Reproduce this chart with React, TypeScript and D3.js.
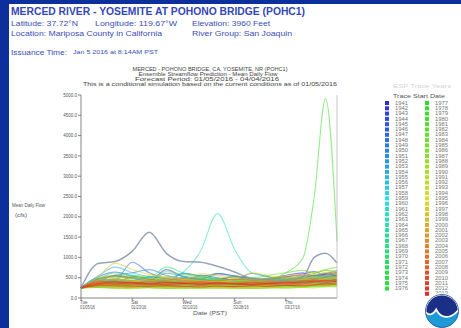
import React from 'react';
import * as d3 from 'd3';

// Forecast days (from 01/05/2016) at which each trace value is given
const DAYS = [0, 6, 12, 18, 24, 30, 36, 42, 48, 54, 60, 66, 72, 78, 82, 86, 90];

// Trace start years (one ESP trace per historical year)
const TRACE_YEARS = [
  1941, 1942, 1943, 1944, 1945, 1946, 1947, 1948, 1949, 1950, 1951, 1952, 1953, 1954, 1955, 1956,
  1957, 1958, 1959, 1960, 1961, 1962, 1963, 1964, 1965, 1966, 1967, 1968, 1969, 1970, 1971, 1972,
  1973, 1974, 1975, 1976, 1977, 1978, 1979, 1980, 1981, 1982, 1983, 1984, 1985, 1986, 1987, 1988,
  1989, 1990, 1991, 1992, 1993, 1994, 1995, 1996, 1997, 1998, 1999, 2000, 2001, 2002, 2003, 2004,
  2005, 2006, 2007, 2008, 2009, 2010, 2011, 2012, 2013,
];

// Mean daily flow (cfs) for each trace, aligned with DAYS
const TRACE_FLOWS = [
  [250, 420, 380, 520, 460, 390, 610, 540, 470, 520, 430, 480, 560, 620, 540, 600, 680],
  [250, 380, 560, 490, 420, 700, 520, 460, 600, 540, 480, 430, 520, 590, 650, 560, 610],
  [250, 450, 390, 340, 520, 480, 420, 560, 500, 440, 610, 520, 470, 540, 500, 580, 630],
  [250, 300, 280, 360, 330, 300, 410, 380, 350, 320, 380, 420, 390, 450, 480, 520, 560],
  [250, 520, 640, 540, 480, 430, 500, 460, 420, 540, 480, 450, 520, 480, 560, 600, 540],
  [250, 360, 420, 880, 620, 480, 420, 390, 450, 420, 380, 410, 440, 500, 470, 520, 580],
  [250, 280, 310, 290, 340, 300, 280, 320, 300, 350, 330, 310, 360, 340, 380, 420, 400],
  [250, 310, 290, 270, 300, 330, 310, 290, 350, 320, 300, 340, 380, 420, 460, 500, 540],
  [250, 460, 520, 480, 430, 610, 540, 470, 430, 400, 460, 420, 480, 520, 560, 520, 590],
  [250, 430, 560, 620, 700, 560, 480, 520, 600, 540, 460, 420, 480, 440, 500, 540, 520],
  [250, 390, 350, 420, 380, 520, 460, 410, 380, 440, 400, 370, 430, 470, 440, 490, 530],
  [250, 330, 380, 350, 410, 380, 350, 420, 390, 460, 430, 400, 450, 420, 480, 460, 500],
  [250, 490, 420, 380, 440, 400, 370, 350, 410, 380, 360, 400, 380, 430, 410, 450, 480],
  [250, 360, 330, 400, 370, 450, 420, 390, 360, 340, 380, 410, 440, 400, 460, 430, 470],
  [250, 540, 760, 620, 520, 460, 600, 520, 470, 430, 400, 440, 420, 470, 440, 490, 520],
  [250, 400, 470, 430, 520, 480, 440, 410, 460, 430, 490, 460, 420, 450, 500, 470, 510],
  [250, 320, 290, 340, 310, 280, 330, 360, 340, 310, 290, 330, 360, 390, 420, 450, 430],
  [250, 440, 400, 370, 350, 420, 390, 520, 480, 440, 410, 460, 500, 470, 510, 540, 500],
  [250, 370, 420, 390, 360, 340, 380, 350, 330, 370, 400, 380, 350, 390, 420, 400, 440],
  [250, 300, 340, 380, 350, 330, 310, 350, 380, 360, 340, 320, 360, 340, 380, 410, 390],
  [250, 350, 320, 300, 330, 360, 340, 320, 350, 330, 360, 390, 370, 400, 380, 420, 450],
  [250, 410, 380, 440, 410, 380, 520, 470, 430, 400, 420, 450, 420, 460, 430, 470, 500],
  [250, 380, 450, 420, 400, 470, 640, 1150, 2080, 1200, 620, 520, 480, 450, 500, 480, 520],
  [250, 330, 310, 350, 330, 360, 340, 320, 350, 380, 360, 340, 370, 350, 390, 420, 400],
  [250, 460, 530, 480, 440, 410, 460, 430, 400, 380, 420, 400, 440, 420, 450, 480, 460],
  [250, 340, 370, 340, 320, 350, 330, 370, 350, 330, 360, 340, 330, 370, 400, 380, 420],
  [250, 420, 480, 560, 500, 450, 420, 480, 450, 420, 460, 430, 470, 520, 560, 620, 580],
  [250, 300, 330, 310, 290, 320, 300, 280, 310, 330, 300, 320, 350, 330, 360, 390, 370],
  [250, 480, 620, 560, 500, 760, 620, 540, 480, 450, 500, 470, 520, 480, 460, 500, 540],
  [250, 350, 330, 390, 360, 340, 370, 350, 330, 360, 340, 370, 350, 330, 370, 350, 380],
  [250, 290, 270, 300, 280, 260, 290, 310, 290, 270, 300, 320, 300, 280, 310, 340, 330],
  [250, 320, 300, 280, 310, 290, 270, 300, 280, 310, 290, 270, 300, 330, 310, 350, 340],
  [250, 380, 440, 400, 370, 420, 390, 450, 420, 390, 360, 400, 440, 410, 450, 430, 470],
  [250, 340, 380, 360, 340, 390, 370, 350, 330, 360, 380, 350, 390, 370, 400, 430, 410],
  [250, 310, 290, 330, 310, 290, 320, 300, 280, 310, 330, 310, 290, 320, 350, 330, 360],
  [250, 270, 260, 280, 270, 250, 270, 260, 280, 270, 250, 270, 290, 280, 300, 320, 310],
  [250, 260, 250, 270, 260, 240, 260, 250, 270, 260, 240, 260, 280, 270, 290, 310, 300],
  [250, 360, 420, 380, 350, 420, 400, 370, 430, 400, 380, 420, 460, 520, 600, 680, 640],
  [250, 330, 310, 360, 340, 320, 380, 350, 330, 390, 360, 420, 620, 980, 2500, 4920, 1400],
  [250, 300, 280, 320, 300, 280, 310, 290, 270, 300, 290, 280, 310, 340, 320, 360, 350],
  [250, 280, 300, 280, 260, 290, 270, 250, 280, 270, 260, 290, 280, 300, 330, 310, 340],
  [250, 420, 380, 520, 470, 430, 400, 460, 430, 400, 440, 470, 440, 480, 520, 500, 540],
  [250, 480, 560, 520, 470, 650, 580, 520, 480, 540, 500, 560, 620, 680, 620, 700, 760],
  [250, 340, 320, 300, 330, 310, 290, 320, 300, 280, 310, 300, 330, 310, 340, 370, 350],
  [250, 290, 270, 260, 280, 300, 280, 260, 250, 270, 260, 250, 270, 290, 280, 300, 320],
  [250, 380, 460, 420, 390, 360, 430, 400, 380, 350, 380, 410, 390, 430, 410, 450, 480],
  [250, 270, 250, 240, 260, 250, 240, 260, 250, 240, 250, 260, 250, 270, 290, 280, 300],
  [250, 260, 240, 230, 250, 240, 230, 250, 240, 230, 240, 250, 240, 260, 250, 280, 270],
  [250, 300, 280, 310, 290, 270, 300, 330, 310, 290, 270, 300, 290, 320, 350, 330, 360],
  [250, 280, 260, 250, 270, 260, 250, 240, 260, 250, 240, 260, 270, 260, 290, 310, 300],
  [250, 290, 270, 280, 260, 250, 270, 290, 280, 260, 250, 280, 330, 380, 420, 460, 440],
  [250, 310, 340, 320, 300, 330, 310, 290, 320, 300, 330, 310, 300, 330, 360, 340, 380],
  [250, 400, 480, 440, 410, 520, 470, 430, 400, 450, 420, 390, 430, 470, 440, 480, 510],
  [250, 300, 280, 270, 290, 280, 260, 280, 270, 260, 280, 270, 290, 280, 300, 330, 310],
  [250, 440, 520, 480, 560, 500, 460, 600, 540, 480, 620, 560, 500, 540, 580, 620, 600],
  [250, 360, 420, 400, 480, 440, 400, 370, 420, 390, 360, 400, 380, 420, 450, 430, 470],
  [250, 520, 860, 700, 580, 520, 480, 520, 560, 500, 460, 500, 540, 580, 620, 680, 640],
  [250, 380, 350, 420, 390, 460, 430, 400, 450, 420, 470, 440, 480, 520, 490, 540, 580],
  [250, 330, 310, 290, 320, 350, 330, 310, 340, 320, 300, 330, 360, 340, 380, 410, 390],
  [250, 400, 380, 360, 440, 410, 390, 430, 400, 380, 410, 440, 420, 460, 500, 480, 520],
  [250, 310, 290, 270, 300, 280, 270, 290, 280, 270, 290, 280, 300, 330, 310, 340, 360],
  [250, 350, 330, 380, 360, 340, 390, 370, 350, 380, 360, 340, 370, 400, 380, 420, 410],
  [250, 420, 460, 430, 400, 470, 440, 410, 440, 470, 440, 410, 450, 480, 460, 500, 530],
  [250, 370, 350, 330, 360, 340, 380, 360, 340, 370, 350, 330, 360, 380, 410, 390, 430],
  [250, 340, 390, 360, 340, 370, 420, 390, 370, 400, 380, 360, 390, 420, 450, 430, 470],
  [250, 460, 540, 500, 460, 430, 480, 450, 420, 460, 440, 480, 520, 560, 540, 600, 620],
  [250, 300, 290, 280, 300, 290, 280, 300, 290, 280, 300, 290, 310, 300, 330, 320, 350],
  [250, 380, 420, 390, 360, 400, 380, 350, 380, 360, 390, 370, 400, 430, 410, 450, 440],
  [250, 330, 360, 340, 320, 350, 330, 310, 340, 320, 350, 330, 310, 340, 370, 350, 390],
  [250, 410, 390, 370, 400, 380, 360, 390, 370, 350, 380, 400, 380, 410, 440, 420, 460],
  [250, 360, 340, 380, 350, 330, 360, 340, 370, 350, 330, 360, 390, 370, 400, 430, 410],
  [250, 300, 320, 300, 280, 310, 290, 270, 300, 280, 300, 290, 310, 300, 320, 350, 340],
  [250, 350, 400, 370, 340, 380, 360, 340, 370, 350, 330, 360, 350, 380, 410, 390, 420],
];

// Simulated flow with current conditions (grey reference trace)
const SIM_FLOW = [250, 850, 900, 1150, 1620, 1100, 900, 880, 780, 640, 480, 450, 430, 520, 1000, 1100, 860];

const Y_TICKS = [0, 500, 1000, 1500, 2000, 2500, 3000, 3500, 4000, 4500, 5000];
const X_TICK_DAYS = [0, 18, 36, 54, 72];
const X_TICK_WEEKDAY = ['Tue', 'Sat', 'Wed', 'Sun', 'Thu'];
const X_TICK_DATE = ['01/05/16', '01/23/16', '02/10/16', '02/28/16', '03/17/16'];

const CHART_TITLE = [
  'MERCED - POHONO BRIDGE, CA, YOSEMITE, NR (POHC1)',
  'Ensemble Streamflow Prediction - Mean Daily Flow',
  'Forecast Period: 01/05/2016 - 04/04/2016',
  'This is a conditional simulation based on the current conditions as of 01/05/2016',
];

const FONT = "'Liberation Sans', Arial, sans-serif";
const W = 461;
const H = 328;
const PLOT = { left: 81, right: 337, top: 95, bottom: 298 };

const x = d3.scaleLinear().domain([0, 90]).range([PLOT.left, PLOT.right]);
const y = d3.scaleLinear().domain([0, 5000]).range([PLOT.bottom, PLOT.top]);
const traceColor = (i: number) =>
  d3.hsl(240 - (240 * i) / (TRACE_YEARS.length - 1), 0.72, 0.52).formatHex();

const pathFor = d3
  .line<number>()
  .x((_, i) => x(DAYS[i]))
  .y((v) => y(v))
  .curve(d3.curveMonotoneX);

const COL1 = 36;
const LEG_Y0 = 103;
const LEG_STEP = 5.3;

function NoaaLogo({ cx, cy, r }: { cx: number; cy: number; r: number }) {
  const upper = `M ${cx - r} ${cy + 1} A ${r} ${r} 0 0 1 ${cx + r} ${cy - 1}
    C ${cx + r * 0.5} ${cy + r * 0.55}, ${cx - r * 0.1} ${cy + r * 0.45}, ${cx - r * 0.35} ${cy - r * 0.1}
    C ${cx - r * 0.55} ${cy + r * 0.25}, ${cx - r * 0.8} ${cy + r * 0.3}, ${cx - r} ${cy + 1} Z`;
  return (
    <g>
      <circle cx={cx} cy={cy} r={r + 1.5} fill="#ffffff" />
      <circle cx={cx} cy={cy} r={r} fill="#1c9bd6" />
      <path d={upper} fill="#1b2f86" stroke="#ffffff" strokeWidth={1.8} />
      <circle cx={cx} cy={cy} r={r} fill="none" stroke="#17468f" strokeWidth={0.8} />
    </g>
  );
}

export default function App() {
  return (
    <svg
      width={W}
      height={H}
      viewBox={`0 0 ${W} ${H}`}
      style={{ position: 'fixed', left: 0, top: 0, background: '#ffffff' }}
      fontFamily={FONT}
    >
      <rect x={0} y={0} width={W} height={H} fill="#ffffff" />
      <rect x={0} y={0} width={W} height={4} fill="#0d2f9c" />
      <rect x={0} y={0} width={9} height={H} fill="#0d2f9c" />

      {/* Station header */}
      <text x={11} y={15} fontSize={10} fontWeight="bold" fill="#3447b8" textLength={294} lengthAdjust="spacingAndGlyphs">
        MERCED RIVER - YOSEMITE AT POHONO BRIDGE (POHC1)
      </text>
      <g fontSize={7} fill="#3a4db5">
        <text x={11} y={25.5} textLength={67} lengthAdjust="spacingAndGlyphs">Latitude: 37.72°N</text>
        <text x={95} y={25.5} textLength={82} lengthAdjust="spacingAndGlyphs">Longitude: 119.67°W</text>
        <text x={192} y={25.5} textLength={78} lengthAdjust="spacingAndGlyphs">Elevation: 3960 Feet</text>
        <text x={11} y={35.5} textLength={151} lengthAdjust="spacingAndGlyphs">Location: Mariposa County in California</text>
        <text x={192} y={35.5} textLength={100} lengthAdjust="spacingAndGlyphs">River Group: San Joaquin</text>
        <text x={11} y={54.5} fontSize={6.5} textLength={56} lengthAdjust="spacingAndGlyphs">Issuance Time:</text>
        <text x={73} y={54} fontSize={5} textLength={85} lengthAdjust="spacingAndGlyphs">Jan 5 2016 at 8:14AM PST</text>
      </g>

      {/* Chart title */}
      <g fontSize={4.6} fill="#444" textAnchor="middle">
        <text x={210} y={71} textLength={155} lengthAdjust="spacingAndGlyphs">{CHART_TITLE[0]}</text>
        <text x={208} y={76} textLength={139} lengthAdjust="spacingAndGlyphs">{CHART_TITLE[1]}</text>
        <text x={207} y={81} textLength={144} lengthAdjust="spacingAndGlyphs">{CHART_TITLE[2]}</text>
        <text x={210} y={86} textLength={254} lengthAdjust="spacingAndGlyphs">{CHART_TITLE[3]}</text>
      </g>

      {/* Traces */}
      <g fill="none" strokeLinejoin="round">
        {TRACE_FLOWS.map((vals, i) => (
          <path key={TRACE_YEARS[i]} d={pathFor(vals) ?? ''} stroke={traceColor(i)} strokeWidth={1.1} strokeOpacity={0.55} />
        ))}
        <path d={pathFor(SIM_FLOW) ?? ''} stroke="#8595ad" strokeWidth={1.5} strokeOpacity={0.85} />
      </g>

      {/* Axes */}
      <g stroke="#666" strokeWidth={0.8}>
        <line x1={PLOT.left} x2={PLOT.left} y1={PLOT.top} y2={PLOT.bottom} />
        <line x1={PLOT.left} x2={PLOT.right} y1={PLOT.bottom} y2={PLOT.bottom} />
        <line x1={PLOT.right} x2={PLOT.right} y1={PLOT.top} y2={PLOT.bottom} stroke="#bbb" />
        {Y_TICKS.map((t) => (
          <line key={t} x1={PLOT.left - 3} x2={PLOT.left} y1={y(t)} y2={y(t)} />
        ))}
        {X_TICK_DAYS.map((d) => (
          <line key={d} x1={x(d)} x2={x(d)} y1={PLOT.bottom} y2={PLOT.bottom + 2.5} />
        ))}
      </g>
      <g fontSize={4.5} fill="#555" textAnchor="end">
        {Y_TICKS.map((t) => (
          <text key={t} x={PLOT.left - 4} y={y(t) + 1.6}>{d3.format('.1f')(t)}</text>
        ))}
      </g>
      <g fontSize={4.5} fill="#555">
        {X_TICK_DAYS.map((d, i) => (
          <g key={d}>
            <text x={x(d) - 1} y={303.8}>{X_TICK_WEEKDAY[i]}</text>
            <text x={x(d) - 1} y={308.8} textLength={15} lengthAdjust="spacingAndGlyphs">{X_TICK_DATE[i]}</text>
          </g>
        ))}
        <text x={193} y={315} textLength={34} lengthAdjust="spacingAndGlyphs">Date (PST)</text>
      </g>
      <g fontSize={5} fill="#555">
        <text x={12} y={207} textLength={33} lengthAdjust="spacingAndGlyphs">Mean Daily Flow</text>
        <text x={15} y={217} textLength={12} lengthAdjust="spacingAndGlyphs">(cfs)</text>
      </g>

      {/* Legend */}
      <g fontSize={4.5} fill="#777">
        <text x={393} y={87.5} fill="#d4d4d4" textLength={58} lengthAdjust="spacingAndGlyphs">ESP Trace Years</text>
        <text x={393} y={97.5} fill="#555" textLength={52} lengthAdjust="spacingAndGlyphs">Trace Start Date</text>
        {TRACE_YEARS.map((yr, i) => {
          const col = i < COL1 ? 0 : 1;
          const row = col === 0 ? i : i - COL1;
          const mx = col === 0 ? 387 : 427;
          const cy = LEG_Y0 + row * LEG_STEP;
          return (
            <g key={yr}>
              <rect x={mx - 2} y={cy - 2} width={4} height={4} fill={traceColor(i)} />
              <text x={mx + 8} y={cy + 1.6} textLength={13} lengthAdjust="spacingAndGlyphs">{String(yr)}</text>
            </g>
          );
        })}
      </g>

      <NoaaLogo cx={442} cy={311} r={16.5} />
    </svg>
  );
}
